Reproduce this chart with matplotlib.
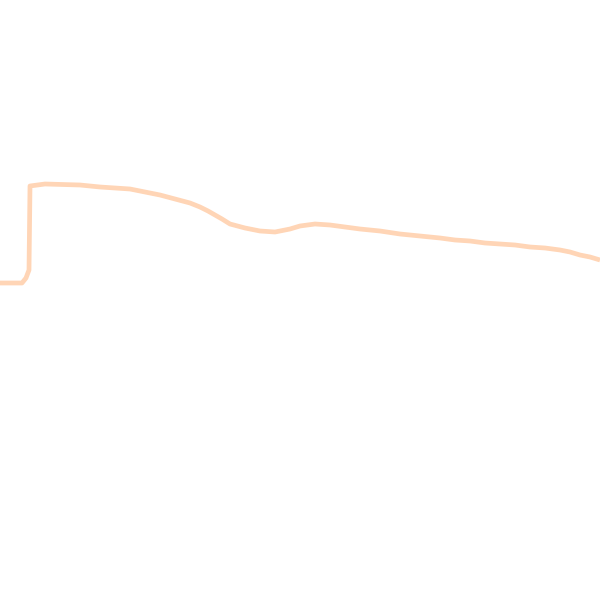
import matplotlib
matplotlib.use("Agg")
from matplotlib import pyplot as plt

# values (x index, level)
x_vals = [0, 22, 26, 29, 30, 45, 80, 100, 130, 145, 160, 175, 190, 200, 208, 215,
          222, 230, 245, 260, 275, 290, 300, 315, 330, 345, 360, 380, 400, 420,
          440, 455, 470, 485, 500, 515, 530, 545, 560, 570, 580, 590, 600]
y_vals = [317, 317, 322, 330, 414, 416, 415, 413, 411, 408, 405, 401, 397, 393, 389, 385,
          381, 376, 372, 369, 368, 371, 374, 376, 375, 373, 371, 369, 366, 364,
          362, 360, 359, 357, 356, 355, 353, 352, 350, 348, 345, 343, 340]

fig = plt.figure(figsize=(6, 6), dpi=100)
ax = fig.add_axes([0, 0, 1, 1])
ax.plot(x_vals, y_vals, color='#FFD5B6', linewidth=3.4, solid_capstyle='butt')
ax.set_xlim(0, 600)
ax.set_ylim(0, 600)
ax.axis('off')
fig.savefig('out.png', dpi=100, facecolor='white')
